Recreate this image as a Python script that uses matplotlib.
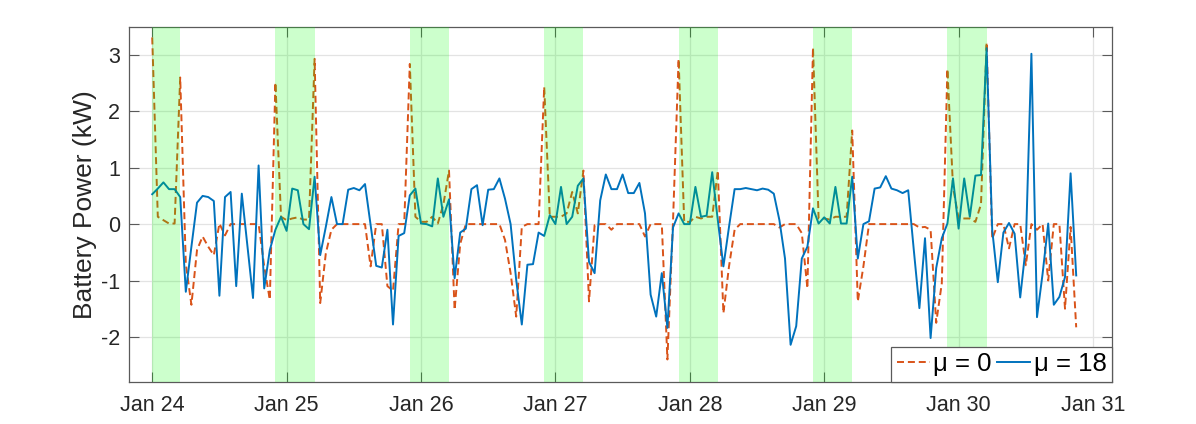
import numpy as np
import pandas as pd
import matplotlib
matplotlib.use('Agg')
import matplotlib.pyplot as plt
import matplotlib.dates as mdates

plt.rcParams['font.family'] = ['Liberation Sans', 'DejaVu Sans']

# hourly battery power (kW), starting Jan 24 00:00
t0 = pd.Timestamp('2023-01-24 00:00')

p_mu0 = [3.31, 0.13, 0.07, 0.01, 0.01, 2.6, -0.7, -1.43, -0.46, -0.22,
         -0.4, -0.55, 0.01, -0.2, 0.0, 0.0, 0.0, 0.0, 0.0, 0.0,
         -0.75, -1.34, 2.51, 0.13, 0.07, 0.1, 0.12, 0.08, 0.08, 2.93,
         -1.4, -0.52, -0.1, 0.0, 0.0, 0.0, 0.0, 0.0, 0.0, -0.75,
         0.0, 0.0, -1.1, -1.18, 0.0, 0.0, 2.84, 0.13, 0.04, 0.04,
         0.13, 0.01, 0.35, 0.95, -1.52, -0.35, 0.0, 0.0, 0.0, 0.0,
         0.0, 0.0, 0.0, -0.28, -0.87, -1.64, -0.05, 0.0, 0.0, 0.0,
         2.43, 0.13, 0.13, 0.13, 0.19, 0.57, 0.19, 0.95, -1.37, -0.02,
         0.0, 0.0, -0.1, 0.0, 0.0, 0.0, 0.0, 0.0, -0.22, 0.0,
         0.0, 0.0, -2.4, 0.05, 2.93, 0.04, 0.04, 0.13, 0.1, 0.13,
         0.13, 0.95, -1.58, -0.75, -0.1, 0.0, 0.0, 0.0, 0.0, 0.0,
         0.0, 0.0, -0.06, 0.0, 0.0, 0.0, -0.16, -1.14, 3.13, 0.1,
         0.1, 0.08, 0.13, 0.13, 0.13, 1.66, -1.37, -0.75, 0.0, 0.0,
         0.0, 0.0, 0.0, 0.0, 0.0, 0.0, 0.0, -0.06, -0.05, -0.1,
         -1.75, -1.05, 2.75, 0.66, 0.1, 0.1, 0.1, 0.04, 0.35, 3.22,
         -0.26, 0.0, 0.0, -0.43, 0.0, 0.0, -0.73, 0.0, -0.1, 0.0,
         -1.0, 0.0, 0.0, -1.5, -0.05, -1.83]

p_mu18 = [0.53, 0.63, 0.74, 0.62, 0.62, 0.48, -1.2, -0.4, 0.38, 0.5,
          0.48, 0.41, -1.27, 0.48, 0.57, -1.1, 0.54, -0.38, -1.31, 1.04,
          -1.14, -0.46, -0.1, 0.13, -0.12, 0.63, 0.6, 0.0, -0.09, 0.84,
          -0.55, -0.05, 0.48, 0.0, 0.0, 0.61, 0.64, 0.6, 0.71, -0.02,
          -0.74, -0.77, -0.1, -1.78, -0.21, -0.16, 0.51, 0.63, 0.01, 0.0,
          -0.04, 0.81, 0.13, 0.44, -0.96, -0.15, -0.08, 0.62, 0.69, -0.02,
          0.61, 0.62, 0.81, 0.45, 0.0, -0.99, -1.78, -0.72, -0.71, -0.15,
          -0.21, 0.16, 0.0, 0.66, 0.0, 0.13, 0.68, 0.81, -0.67, -0.87,
          0.42, 0.88, 0.62, 0.62, 0.88, 0.55, 0.55, 0.73, 0.19, -1.25,
          -1.64, -0.87, -1.84, -0.06, 0.19, 0.0, 0.0, 0.66, 0.13, 0.15,
          0.92, 0.07, -0.75, -0.05, 0.62, 0.62, 0.64, 0.62, 0.6, 0.63,
          0.61, 0.54, 0.07, -0.61, -2.14, -1.81, -0.61, -0.4, 0.28, 0.01,
          0.12, 0.01, 0.66, 0.01, 0.01, 0.84, -0.61, 0.0, 0.05, 0.63,
          0.65, 0.85, 0.63, 0.6, 0.55, 0.6, -0.46, -1.49, -0.25, -2.02,
          -0.78, -0.25, 0.01, 0.81, -0.08, 0.81, 0.13, 0.86, 0.87, 3.12,
          -0.1, -1.03, -0.15, 0.02, -0.17, -1.3, -0.4, 3.02, -1.65, -0.88,
          0.01, -1.43, -1.29, -0.94, 0.9, -0.91]

t = pd.date_range(t0, periods=len(p_mu18), freq='h')

# charging windows (night tariff)
win_start = ['2023-01-24 00:00', '2023-01-24 22:00', '2023-01-25 22:00',
             '2023-01-26 22:00', '2023-01-27 22:00', '2023-01-28 22:00',
             '2023-01-29 22:00']
win_end = ['2023-01-24 05:00', '2023-01-25 05:00', '2023-01-26 05:00',
           '2023-01-27 05:00', '2023-01-28 05:00', '2023-01-29 05:00',
           '2023-01-30 05:00']

naranja = '#D95319'
azul = '#0072BD'

fig = plt.figure(figsize=(11.96, 4.24), dpi=100)
ax = fig.add_axes([0.1076, 0.099, 0.8222, 0.838])

l0, = ax.plot(t, p_mu0, color=naranja, linewidth=1.4, linestyle=(0, (3.6, 2.0)),
              label='μ = 0')
l1, = ax.plot(t, p_mu18, color=azul, linewidth=1.4, label='μ = 18')

# ventanas de carga, encima de las curvas con transparencia
for a, b in zip(win_start, win_end):
    ax.axvspan(pd.Timestamp(a), pd.Timestamp(b), color=(0, 1, 0), alpha=0.2,
               linewidth=0, zorder=3)

ax.set_xlim(t0 - pd.Timedelta(hours=4.2), t0 + pd.Timedelta(hours=171.4))
ax.set_ylim(-2.8, 3.5)
ax.set_yticks([-2, -1, 0, 1, 2, 3])
ax.set_yticklabels(['-2', '-1', '0', '1', '2', '3'])
ax.xaxis.set_major_locator(mdates.DayLocator())
ax.xaxis.set_major_formatter(mdates.DateFormatter('%b %d'))

ax.grid(True, color='#e3e3e3', linewidth=0.9)
ax.set_axisbelow(True)
ax.tick_params(direction='in', length=7, width=0.8, color='#5a5a5a',
               labelsize=15.5, top=True, right=True, labelcolor='#262626')
ax.tick_params(axis='x', pad=9)
ax.tick_params(axis='y', pad=6)
for s in ax.spines.values():
    s.set_color('#5a5a5a')
    s.set_linewidth(0.9)

ax.set_ylabel('Battery Power (kW)', fontsize=19, color='#262626', labelpad=3)

leg = ax.legend(handles=[l0, l1], loc='lower right', ncol=2, fontsize=18.5,
                frameon=True, fancybox=False, borderaxespad=0,
                handlelength=1.3, handletextpad=0.12, columnspacing=0.2,
                borderpad=0.22)
leg.get_frame().set_edgecolor('#5a5a5a')
leg.get_frame().set_linewidth(0.9)
leg.get_frame().set_alpha(1)
leg.set_zorder(10)

plt.savefig('out.png', dpi=100)
